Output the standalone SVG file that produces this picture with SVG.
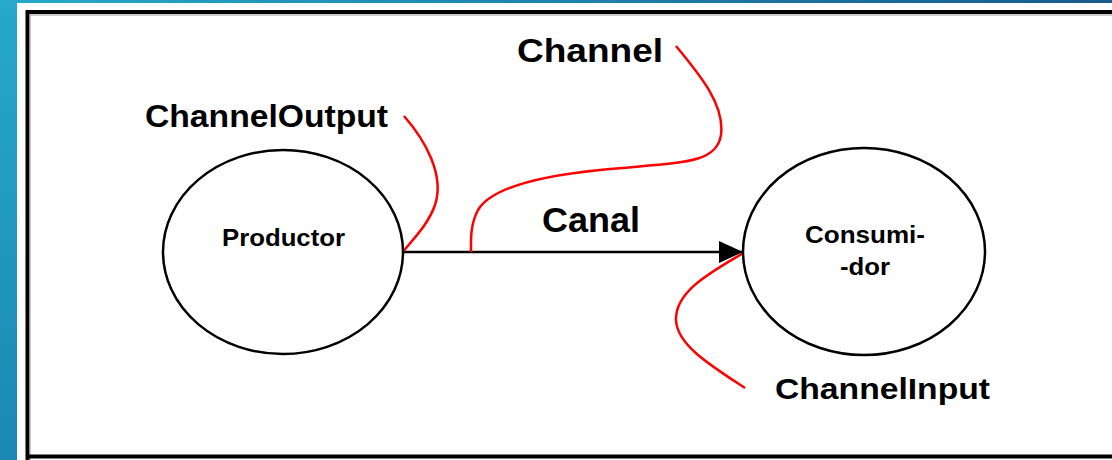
<svg xmlns="http://www.w3.org/2000/svg" width="1112" height="460" viewBox="0 0 1112 460">
<defs>
<linearGradient id="sideG" x1="0" y1="0" x2="0" y2="1">
<stop offset="0" stop-color="#27a9c9"/>
<stop offset="1" stop-color="#1a88b3"/>
</linearGradient>
<linearGradient id="topG" x1="0" y1="0" x2="1" y2="0">
<stop offset="0" stop-color="#27a9c9"/>
<stop offset="1" stop-color="#175c8c"/>
</linearGradient>
<marker id="arrow" viewBox="0 0 24 22" refX="24" refY="11" markerWidth="24" markerHeight="22" markerUnits="userSpaceOnUse" orient="auto">
<path d="M0,0 L24,11 L0,22 Z" fill="#000"/>
</marker>
<style>
.node{fill:#fff;stroke:#000;stroke-width:2.5}
.lbl{font-family:"Liberation Sans",Arial,sans-serif;font-weight:bold;fill:#000}
.red{fill:none;stroke:#ff0000;stroke-width:2.5}
.edge{fill:none;stroke:#000;stroke-width:2.5}
</style>
</defs>
<rect x="0" y="0" width="1112" height="460" fill="#fff"/>
<rect x="0" y="0" width="17" height="460" fill="url(#sideG)"/>
<rect x="0" y="0" width="1112" height="3" fill="url(#topG)"/>
<path d="M27.5,460 V12 H1112" fill="none" stroke="#000" stroke-width="4"/>
<path d="M30,460 V15 H1112" fill="none" stroke="#999" stroke-width="1"/>
<path d="M27.5,456.5 H1112" fill="none" stroke="#000" stroke-width="4"/>
<g id="connectors">
<path class="edge" d="M403,252 L743,252" marker-end="url(#arrow)"/>
<path class="red" d="M404,116 C425,140 445,175 435,205 C428,225 412,240 403,252"/>
<path class="red" d="M676,46 C700,75 725,105 721,135 C716,165 680,162 600,170 C530,177 490,190 478,210 C470,225 471,240 471,252"/>
<path class="red" d="M745,252 C715,270 675,290 676,320 C677,345 710,365 745,388"/>
</g>
<g id="productor">
<ellipse class="node" cx="283" cy="252" rx="120" ry="102"/>
<text class="lbl" x="283.5" y="246" font-size="23" text-anchor="middle" textLength="123" lengthAdjust="spacingAndGlyphs">Productor</text>
</g>
<g id="consumidor">
<ellipse class="node" cx="864" cy="251.5" rx="121" ry="103.5"/>
<text class="lbl" x="865" y="243" font-size="23" text-anchor="middle" textLength="120" lengthAdjust="spacingAndGlyphs">Consumi-</text>
<text class="lbl" x="865" y="275" font-size="23" text-anchor="middle" textLength="50" lengthAdjust="spacingAndGlyphs">-dor</text>
</g>
<g id="labels">
<text class="lbl" x="591" y="232" font-size="35" text-anchor="middle" textLength="98" lengthAdjust="spacingAndGlyphs">Canal</text>
<text class="lbl" x="517" y="62" font-size="34" textLength="146" lengthAdjust="spacingAndGlyphs">Channel</text>
<text class="lbl" x="145" y="127" font-size="31" textLength="243" lengthAdjust="spacingAndGlyphs">ChannelOutput</text>
<text class="lbl" x="775" y="399" font-size="30" textLength="215" lengthAdjust="spacingAndGlyphs">ChannelInput</text>
</g>
</svg>
